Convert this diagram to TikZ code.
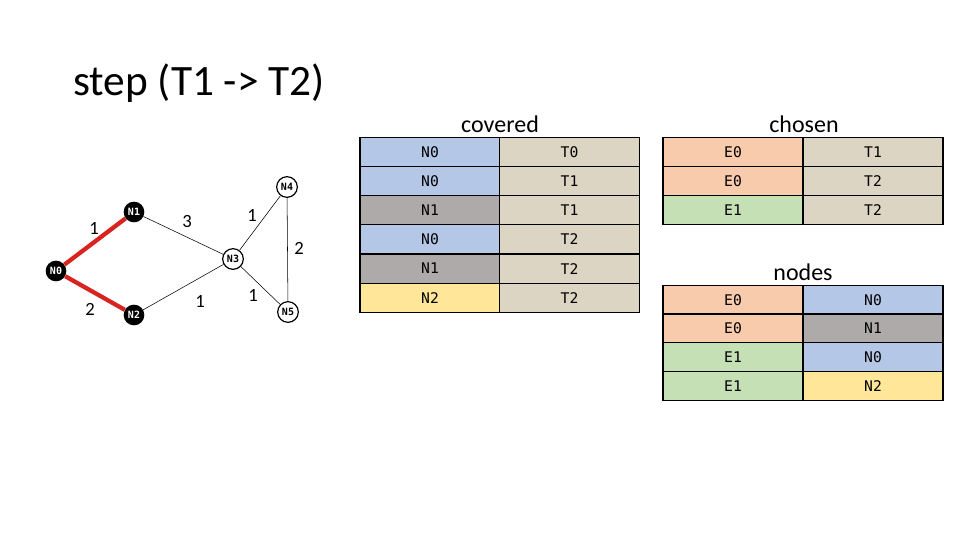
\documentclass[tikz,border=0pt]{standalone}
\usepackage{fontspec}
\setmainfont{Carlito}
\newfontfamily\cellfont{DejaVu Sans Mono}
\usetikzlibrary{positioning}
\definecolor{cblue}{HTML}{B4C7E7}
\definecolor{cgray}{HTML}{AEAAAA}
\definecolor{cyellow}{HTML}{FFE699}
\definecolor{corange}{HTML}{F8CBAD}
\definecolor{cgreen}{HTML}{C5E0B4}
\definecolor{cbeige}{HTML}{DDD5C3}
\definecolor{cred}{HTML}{D9231F}
\tikzset{
  cell/.style={rectangle,draw,line width=0.9pt,minimum width=105pt,minimum height=21.8pt,
    inner sep=0pt,font=\cellfont\fontsize{11}{13}\selectfont},
  gnode/.style={circle,fill=black,text=white,inner sep=0pt,minimum size=15.5pt,
    font=\cellfont\bfseries\fontsize{7.5}{8}\selectfont},
  wnode/.style={circle,draw,line width=0.9pt,fill=white,inner sep=0pt,minimum size=15.5pt,
    font=\cellfont\bfseries\fontsize{7.5}{8}\selectfont},
  wt/.style={font=\fontsize{14}{16}\selectfont,inner sep=0pt},
  ttl/.style={font=\fontsize{18}{20}\selectfont,inner sep=0pt}
}
\begin{document}
\begin{tikzpicture}[x=0.75pt,y=-0.75pt]
\useasboundingbox (0,0) rectangle (960,540);
%title
\node[anchor=base west,inner sep=0pt,font=\fontsize{32.5}{36}\selectfont] (title) at (73,95) {step (T1 -> T2)};

%graph
\node[gnode] (n0) at (56,271) {N0};
\node[gnode] (n1) at (134,212) {N1};
\node[gnode] (n2) at (134,315) {N2};
\node[wnode] (n3) at (233,259) {N3};
\node[wnode] (n4) at (287,187) {N4};
\node[wnode] (n5) at (288,312) {N5};
\draw[cred,line width=3.2pt] (n0) -- (n1);
\draw[cred,line width=3.2pt] (n0) -- (n2);
\draw[thin] (n1) -- (n3);
\draw[thin] (n2) -- (n3);
\draw[thin] (n3) -- (n4);
\draw[thin] (n3) -- (n5);
\draw[thin] (n4) -- (n5);
%weights
\node[wt] (w01) at (94,228) {1};
\node[wt] (w02) at (90,309) {2};
\node[wt] (w13) at (187,221) {3};
\node[wt] (w34) at (252,215) {1};
\node[wt] (w45) at (299,248) {2};
\node[wt] (w23) at (200,301) {1};
\node[wt] (w35) at (253,295) {1};

%covered
\node[ttl] (tcov) at (500,124) {covered};
\foreach \a/\ca/\b [count=\i] in {N0/cblue/T0,N0/cblue/T1,N1/cgray/T1,N0/cblue/T2,N1/cgray/T2,N2/cyellow/T2}{
  \node[cell,fill=\ca] (cov\i a) at (430,{137.3+29.17*(\i-0.5)}) {\a};
  \node[cell,fill=cbeige] (cov\i b) at (569.5,{137.3+29.17*(\i-0.5)}) {\b};
}

%chosen
\node[ttl] (tcho) at (804,124) {chosen};
\foreach \a/\ca/\b [count=\i] in {E0/corange/T1,E0/corange/T2,E1/cgreen/T2}{
  \node[cell,fill=\ca] (cho\i a) at (733,{137.3+29.2*(\i-0.5)}) {\a};
  \node[cell,fill=cbeige] (cho\i b) at (873,{137.3+29.2*(\i-0.5)}) {\b};
}

%nodes
\node[ttl] (tnod) at (803,272) {nodes};
\foreach \a/\ca/\b/\cb [count=\i] in {E0/corange/N0/cblue,E0/corange/N1/cgray,E1/cgreen/N0/cblue,E1/cgreen/N2/cyellow}{
  \node[cell,fill=\ca] (nod\i a) at (733,{285.7+28.6*(\i-0.5)}) {\a};
  \node[cell,fill=\cb] (nod\i b) at (873,{285.7+28.6*(\i-0.5)}) {\b};
}
\end{tikzpicture}
\end{document}
